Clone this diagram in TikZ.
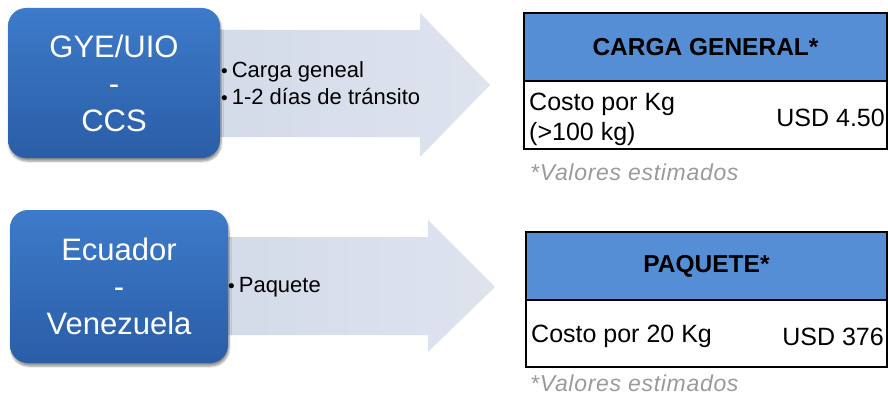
\documentclass[tikz,border=0pt]{standalone}
\usepackage{fontspec}
\setmainfont{Liberation Sans}
\usepackage{xcolor}
\usepackage{tikz}
\usetikzlibrary{positioning,shadows.blur}

\definecolor{routetop}{HTML}{3D7BCA}
\definecolor{routebot}{HTML}{2A5DA6}
\definecolor{flowfill}{HTML}{D3DAE8}
\definecolor{flowtip}{HTML}{DEE3EE}
\definecolor{hdrblue}{HTML}{558ED5}
\definecolor{notegray}{HTML}{9A9A9A}

\newcommand{\bulletmark}{{\fontsize{19}{19}\selectfont •}\hspace{4pt}}

\begin{document}
\begin{tikzpicture}[x=1pt, y=-1pt,
  route/.style={rounded corners=18pt, minimum width=212pt, minimum height=150pt, align=center, text=white, inner sep=0pt,
    font=\fontsize{31}{37}\selectfont, top color=routetop, bottom color=routebot,
    blur shadow={shadow xshift=1pt, shadow yshift=-3pt, shadow blur steps=6, shadow opacity=45}},
  flow/.style={left color=flowfill, right color=flowtip, draw=none},
  bullets/.style={align=left, font=\fontsize{22}{27}\selectfont, inner sep=0pt},
  hdr/.style={draw, line width=1.5pt, fill=hdrblue, minimum width=363pt, minimum height=68pt, outer sep=0pt, inner sep=0pt,
    font=\bfseries\fontsize{24.5}{30}\selectfont},
  cell/.style={draw, line width=1.5pt, fill=white, minimum width=363pt, minimum height=68pt, outer sep=0pt, inner sep=0pt},
  celltxt/.style={align=left, font=\fontsize{25}{30}\selectfont, inner sep=0pt},
  note/.style={font=\itshape\fontsize{23}{28}\selectfont\addfontfeatures{LetterSpace=3}, text=notegray, inner sep=0pt}
]
\useasboundingbox (0,0) rectangle (888,396);

% big arrows behind the boxes
\shade[flow] (200,30) -- (420,30) -- (420,13) -- (490,85) -- (420,157) -- (420,137) -- (200,137) -- cycle;
\shade[flow] (200,237) -- (428,237) -- (428,220) -- (495,287) -- (428,352) -- (428,335) -- (200,335) -- cycle;

% routes
\node[route] (gye) at (114,83) {GYE/UIO\\-\\CCS};
\node[route, minimum width=218pt, minimum height=153pt] (ecu) at (119,286.5) {Ecuador\\-\\Venezuela};

\node[bullets, anchor=west] (gyetxt) at (221,83.5) {\bulletmark Carga geneal\\\bulletmark 1-2 días de tránsito};
\node[bullets, anchor=west] (ecutxt) at (228,287) {\bulletmark Paquete};

% tables
\node[hdr, anchor=north west] (cghdr) at (524,13) {CARGA GENERAL*};
\node[cell, below=0pt of cghdr] (cgrow) {};
\node[celltxt, anchor=west] (cgkg) at ([xshift=5pt, yshift=-4pt]cgrow.west) {Costo por Kg\\(>100 kg)};
\node[celltxt, anchor=east] (cgusd) at ([xshift=-2pt, yshift=-3pt]cgrow.east) {USD 4.50};
\node[note, anchor=west] (cgnote) at (530,172) {*Valores estimados};

\node[hdr, minimum width=361pt, anchor=north west] (pqhdr) at (526,232) {PAQUETE*};
\node[cell, minimum width=361pt, minimum height=67pt, below=0pt of pqhdr] (pqrow) {};
\node[celltxt, anchor=west] (pqkg) at ([xshift=5pt, yshift=-3pt]pqrow.west) {Costo por 20 Kg};
\node[celltxt, anchor=east] (pqusd) at ([xshift=-3pt, yshift=-3pt]pqrow.east) {USD 376};
\node[note, anchor=west] (pqnote) at (530,383) {*Valores estimados};

\end{tikzpicture}
\end{document}
